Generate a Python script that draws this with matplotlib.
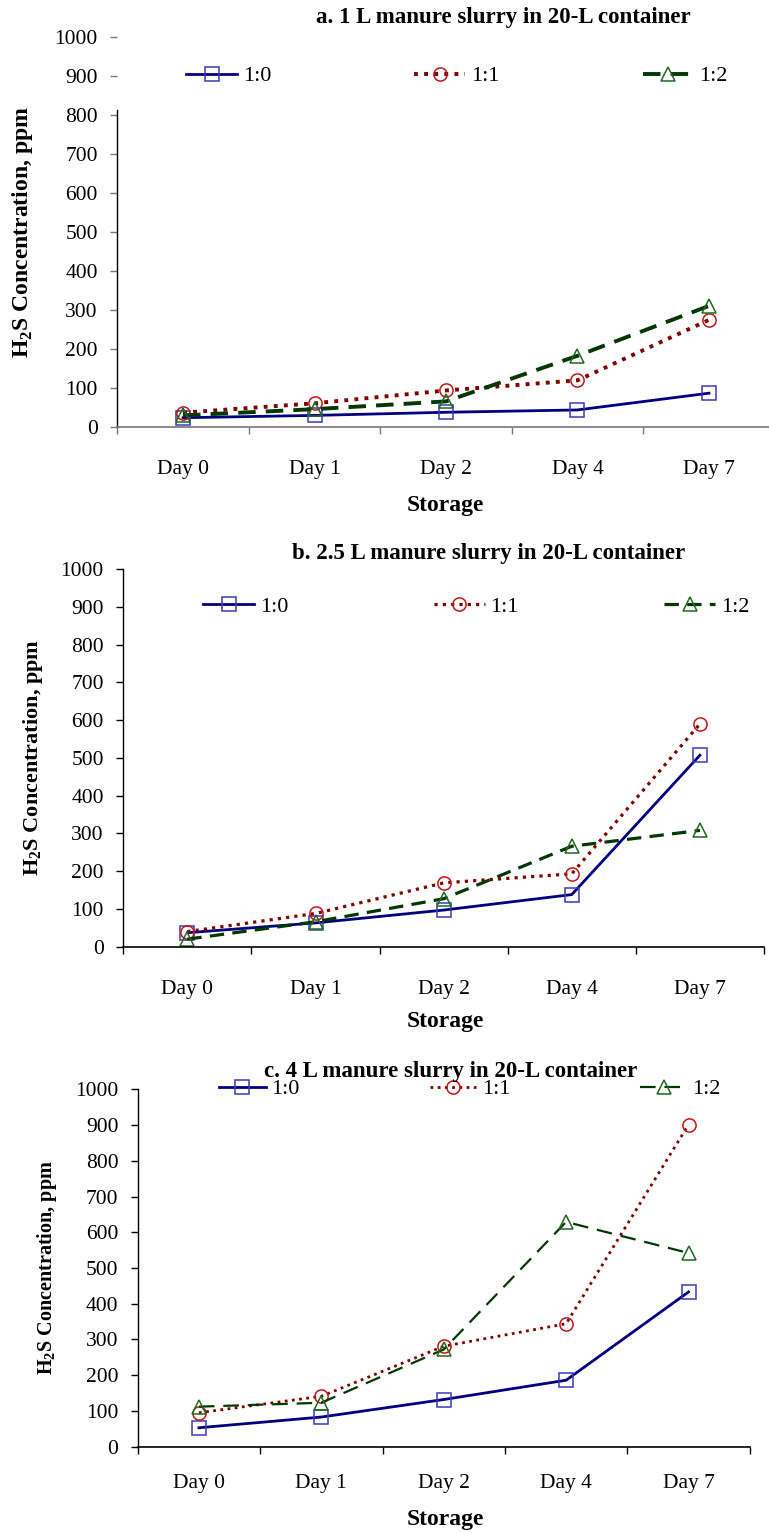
import matplotlib.pyplot as plt

plt.rcParams["font.family"] = ["Liberation Serif", "DejaVu Serif"]
plt.rcParams["mathtext.fontset"] = "custom"
plt.rcParams["mathtext.rm"] = "Liberation Serif"
plt.rcParams["mathtext.bf"] = "Liberation Serif:bold"

# data (ppm)
days = ["Day 0", "Day 1", "Day 2", "Day 4", "Day 7"]
ratios = ["1:0", "1:1", "1:2"]

a_10 = [23, 29, 37, 43, 86]
a_11 = [36, 60, 93, 119, 274]
a_12 = [29, 45, 65, 182, 310]

b_10 = [37, 63, 97, 138, 507]
b_11 = [40, 88, 169, 193, 590]
b_12 = [20, 66, 127, 266, 308]

c_10 = [53, 83, 132, 186, 433]
c_11 = [95, 141, 281, 344, 901]
c_12 = [112, 123, 272, 629, 542]

titles = ["a. 1 L manure slurry in 20-L container",
          "b. 2.5 L manure slurry in 20-L container",
          "c. 4 L manure slurry in 20-L container"]

W, H = 769, 1533
fig = plt.figure(figsize=(W / 100, H / 100), dpi=100)


def fx(x):
    return x / W


def fy(y):
    return 1 - y / H


# layout in pixels: axes box (left, right, top, bottom), title, y-label x, legend
panels = [
    dict(data=(a_10, a_11, a_12), box=(117.3, 774.7, 37, 426.7), title_x=503, title_y=17,
         ylab_x=23, ylab_fs=17, xlab_y=506, leg=(186, 76), colsp=6.45, hl=2.3,
         lw=(2.0, 2.8, 2.8), tick_col="#777777", spine_top=812, xpad=24),
    dict(data=(b_10, b_11, b_12), box=(123.3, 764, 569, 946.7), title_x=489, title_y=553,
         ylab_x=33, ylab_fs=16, xlab_y=1022, leg=(203, 607), colsp=6.55, hl=2.3,
         lw=(2.0, 2.3, 2.3), tick_col="black", spine_top=1000, xpad=24),
    dict(data=(c_10, c_11, c_12), box=(137.7, 749.7, 1089.3, 1446.7), title_x=451, title_y=1071,
         ylab_x=47, ylab_fs=14.5, xlab_y=1520, leg=(219, 1089), colsp=5.85, hl=2.1,
         lw=(2.0, 2.0, 1.6), tick_col="black", spine_top=1000, xpad=20),
]

line_col = ["#000080", "#800000", "#003800"]
mark_col = ["#3a3ab8", "#c01818", "#1f6a1f"]
markers = ["s", "o", "^"]
x = [i + 0.5 for i in range(len(days))]

for p, title in zip(panels, titles):
    l, r, t, b = p["box"]
    ax = fig.add_axes([fx(l), fy(b), fx(r - l), (b - t) / H])
    handles = []
    for k in range(3):
        ls = dict(linestyle="-")
        if k == 1:
            ls = dict(dashes=(1.0, 1.6), dash_capstyle="butt")
        elif k == 2:
            ls = dict(dashes=(4.5, 2.6) if p["lw"][2] > 2 else (7, 4))
        h, = ax.plot(x, p["data"][k], color=line_col[k], lw=p["lw"][k],
                     marker=markers[k], markersize=9.5, markerfacecolor="none",
                     markeredgecolor=mark_col[k], markeredgewidth=1.1,
                     label=ratios[k], clip_on=False, **ls)
        handles.append(h)

    ax.set_xlim(0, 5)
    ax.set_ylim(0, 1000)
    ax.set_yticks(range(0, 1001, 100))
    ax.set_xticks(range(0, 6))
    ax.set_xticklabels([])
    ax.set_xticks(x, minor=True)
    ax.set_xticklabels(days, minor=True)
    ax.tick_params(axis="x", which="minor", length=0, pad=p["xpad"], labelsize=15.5)
    ax.tick_params(axis="x", which="major", direction="out", length=5,
                   width=1, color=p["tick_col"])
    ax.tick_params(axis="y", direction="out", length=5, width=1,
                   color=p["tick_col"], pad=9, labelsize=15.5)
    for side in ("top", "right"):
        ax.spines[side].set_visible(False)
    ax.spines["bottom"].set_color(p["tick_col"])
    ax.spines["bottom"].set_linewidth(1.2)
    ax.spines["left"].set_linewidth(1.0)
    ax.spines["left"].set_bounds(0, p["spine_top"])

    fig.text(fx(p["title_x"]), fy(p["title_y"]), title, fontsize=16.5,
             fontweight="bold", ha="center", va="center")
    fig.text(fx((l + min(r, W)) / 2 + 2), fy(p["xlab_y"]), "Storage", fontsize=17,
             fontweight="bold", ha="center", va="center")
    fig.text(fx(p["ylab_x"]), fy((t + b) / 2), r"H$_{\mathbf{2}}$S Concentration, ppm",
             fontsize=p["ylab_fs"], fontweight="bold", rotation=90,
             ha="center", va="center")

    ax.legend(handles=handles, ncol=3, loc="center left", frameon=False,
              bbox_to_anchor=(fx(p["leg"][0]), fy(p["leg"][1])),
              bbox_transform=fig.transFigure, borderaxespad=0, borderpad=0,
              handlelength=p["hl"], handletextpad=0.25, columnspacing=p["colsp"],
              numpoints=1, fontsize=16)

fig.savefig("out.png", dpi=100)
